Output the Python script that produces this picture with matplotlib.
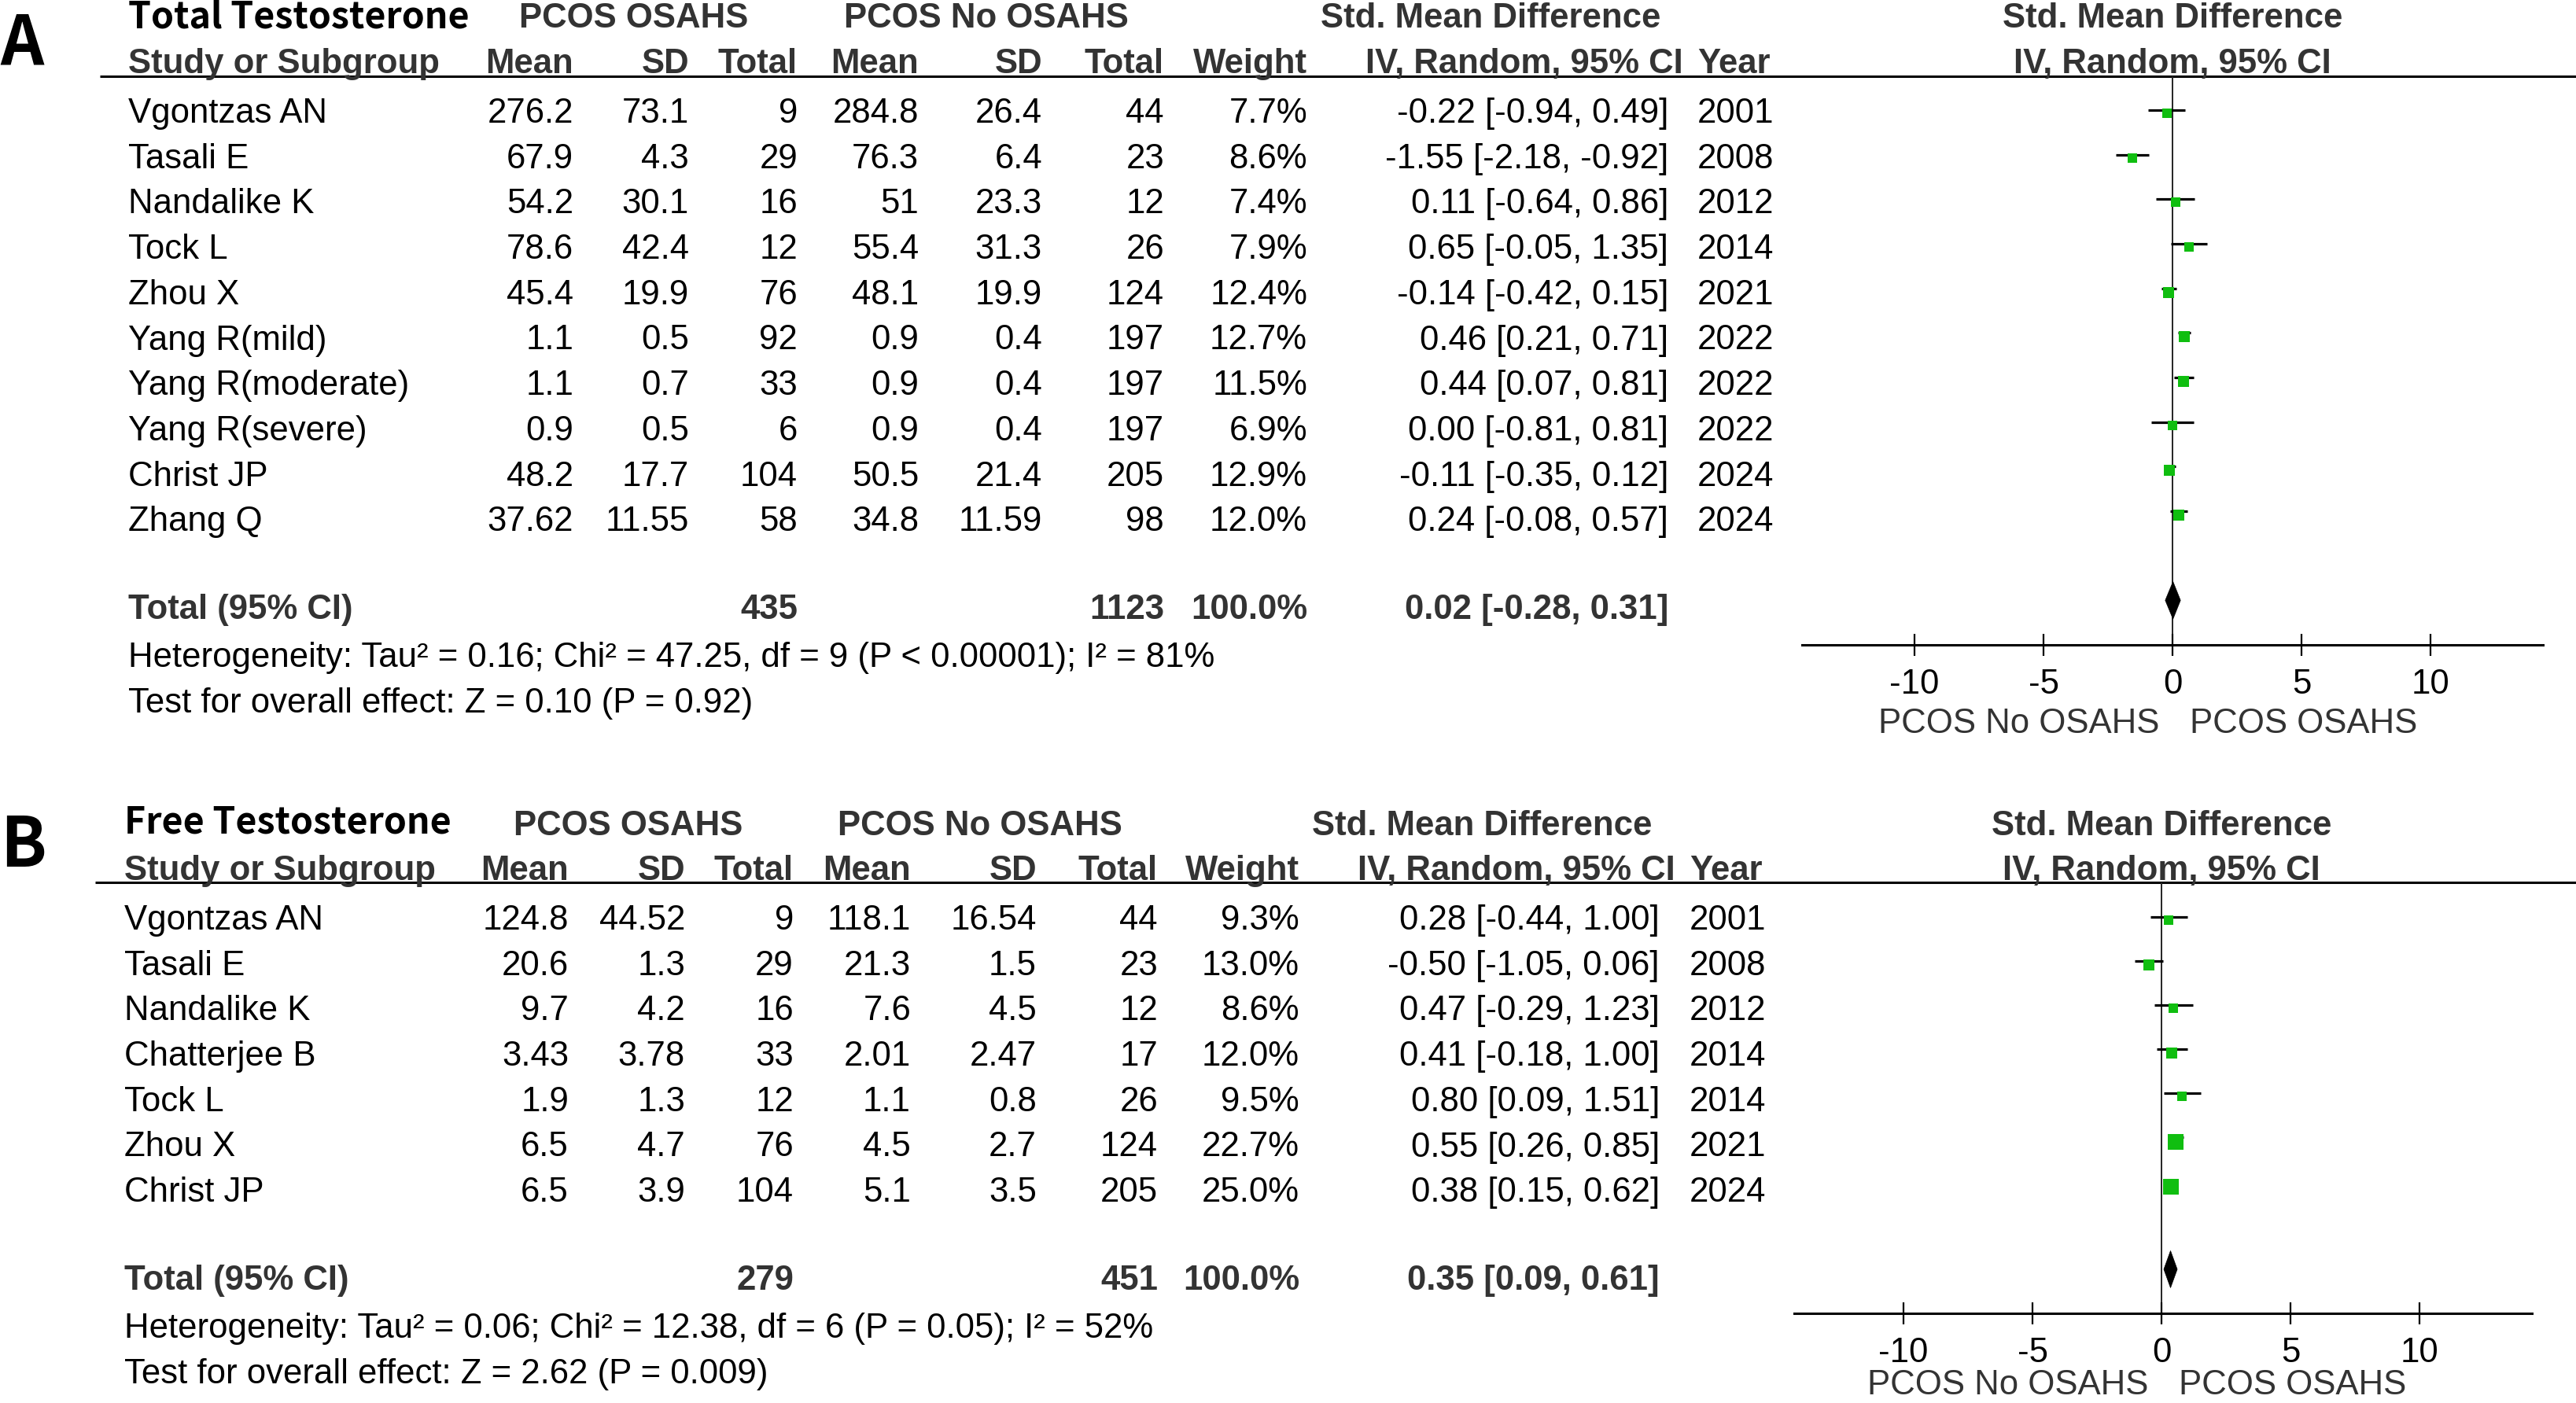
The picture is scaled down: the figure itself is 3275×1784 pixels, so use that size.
import numpy as np
import matplotlib
matplotlib.use("Agg")
import matplotlib.pyplot as plt
from matplotlib.patches import Polygon
from matplotlib.transforms import blended_transform_factory

W, H = 3275, 1784
BODY = 'Liberation Sans'
TITLEFONT = 'Noto Sans CJK SC'
FS = 31.5
GREEN = '#10BE10'
GRAY = '#333333'

plt.rcParams['font.family'] = [BODY, 'DejaVu Sans']
plt.rcParams['axes.unicode_minus'] = False

# ---- panel A: total testosterone ----
a_title = "Total Testosterone"
a_study = ["Vgontzas AN", "Tasali E", "Nandalike K", "Tock L", "Zhou X", "Yang R(mild)",
           "Yang R(moderate)", "Yang R(severe)", "Christ JP", "Zhang Q"]
a_mean1 = ["276.2", "67.9", "54.2", "78.6", "45.4", "1.1", "1.1", "0.9", "48.2", "37.62"]
a_sd1 = ["73.1", "4.3", "30.1", "42.4", "19.9", "0.5", "0.7", "0.5", "17.7", "11.55"]
a_n1 = [9, 29, 16, 12, 76, 92, 33, 6, 104, 58]
a_mean2 = ["284.8", "76.3", "51", "55.4", "48.1", "0.9", "0.9", "0.9", "50.5", "34.8"]
a_sd2 = ["26.4", "6.4", "23.3", "31.3", "19.9", "0.4", "0.4", "0.4", "21.4", "11.59"]
a_n2 = [44, 23, 12, 26, 124, 197, 197, 197, 205, 98]
a_weight = [7.7, 8.6, 7.4, 7.9, 12.4, 12.7, 11.5, 6.9, 12.9, 12.0]
a_smd = [-0.22, -1.55, 0.11, 0.65, -0.14, 0.46, 0.44, 0.00, -0.11, 0.24]
a_lo = [-0.94, -2.18, -0.64, -0.05, -0.42, 0.21, 0.07, -0.81, -0.35, -0.08]
a_hi = [0.49, -0.92, 0.86, 1.35, 0.15, 0.71, 0.81, 0.81, 0.12, 0.57]
a_year = [2001, 2008, 2012, 2014, 2021, 2022, 2022, 2022, 2024, 2024]
a_total = [435, 1123]
a_pooled = [0.02, -0.28, 0.31]
a_het = "Heterogeneity: Tau² = 0.16; Chi² = 47.25, df = 9 (P < 0.00001); I² = 81%"
a_test = "Test for overall effect: Z = 0.10 (P = 0.92)"

# ---- panel B: free testosterone ----
b_title = "Free Testosterone"
b_study = ["Vgontzas AN", "Tasali E", "Nandalike K", "Chatterjee B", "Tock L", "Zhou X", "Christ JP"]
b_mean1 = ["124.8", "20.6", "9.7", "3.43", "1.9", "6.5", "6.5"]
b_sd1 = ["44.52", "1.3", "4.2", "3.78", "1.3", "4.7", "3.9"]
b_n1 = [9, 29, 16, 33, 12, 76, 104]
b_mean2 = ["118.1", "21.3", "7.6", "2.01", "1.1", "4.5", "5.1"]
b_sd2 = ["16.54", "1.5", "4.5", "2.47", "0.8", "2.7", "3.5"]
b_n2 = [44, 23, 12, 17, 26, 124, 205]
b_weight = [9.3, 13.0, 8.6, 12.0, 9.5, 22.7, 25.0]
b_smd = [0.28, -0.50, 0.47, 0.41, 0.80, 0.55, 0.38]
b_lo = [-0.44, -1.05, -0.29, -0.18, 0.09, 0.26, 0.15]
b_hi = [1.00, 0.06, 1.23, 1.00, 1.51, 0.85, 0.62]
b_year = [2001, 2008, 2012, 2014, 2014, 2021, 2024]
b_total = [279, 451]
b_pooled = [0.35, 0.09, 0.61]
b_het = "Heterogeneity: Tau² = 0.06; Chi² = 12.38, df = 6 (P = 0.05); I² = 52%"
b_test = "Test for overall effect: Z = 2.62 (P = 0.009)"

xticks = [-10, -5, 0, 5, 10]

# layout in pixels (y = text baselines)
lay_a = dict(letter="A", letter_y=82, title_x=163, title_y=36, grp_y=35, head_y=93,
             rule_y=97, rule_x=127, row0=156, step=57.7, study_x=163,
             cols=[729, 876, 1014, 1168, 1325, 1480, 1662], ci_r=2121, ci_head_r=2140,
             year_x=2158, grp_x=[806, 1254], smd_x=1895,
             fx=[2291, 3233], fy=[97, 820], xlim=(-14.36, 14.36), lab_dy=-80.6)
lay_b = dict(letter="B", letter_y=1102, title_x=158, title_y=1060, grp_y=1062, head_y=1119,
             rule_y=1122, rule_x=121, row0=1182, step=57.7, study_x=158,
             cols=[723, 871, 1009, 1158, 1318, 1472, 1652], ci_r=2110, ci_head_r=2130,
             year_x=2148, grp_x=[799, 1246], smd_x=1884,
             fx=[2281, 3219], fy=[1122, 1670], xlim=(-14.24, 14.36), lab_dy=-74.0)

fig = plt.figure(figsize=(W / 100, H / 100), dpi=100)
canvas = fig.add_axes([0, 0, 1, 1])
canvas.set_xlim(0, W)
canvas.set_ylim(H, 0)
canvas.axis('off')


def txt(x, y, s, ha='left', bold=False, color='black', size=FS, family=None, transform=None):
    canvas.text(x, y, s, ha=ha, va='baseline', fontsize=size,
                family=family if family else [BODY, 'DejaVu Sans'],
                fontweight='bold' if bold else 'normal', color=color,
                transform=transform if transform else canvas.transData)


def draw_panel(title, study, mean1, sd1, n1, mean2, sd2, n2, weight, smd, lo, hi, year,
               total, pooled, het, test, L):
    cols = L['cols']
    # panel letter and title
    txt(0, L['letter_y'], L['letter'], bold=True, size=62, family=[TITLEFONT, 'DejaVu Sans'])
    txt(L['title_x'], L['title_y'], title, bold=True, size=33.5, family=[TITLEFONT, 'DejaVu Sans'])
    txt(L['grp_x'][0], L['grp_y'], "PCOS OSAHS", ha='center', bold=True, color=GRAY)
    txt(L['grp_x'][1], L['grp_y'], "PCOS No OSAHS", ha='center', bold=True, color=GRAY)
    txt(L['smd_x'], L['grp_y'], "Std. Mean Difference", ha='center', bold=True, color=GRAY)
    txt(L['study_x'], L['head_y'], "Study or Subgroup", bold=True, color=GRAY)
    for x, s in zip(cols, ["Mean", "SD", "Total", "Mean", "SD", "Total", "Weight"]):
        txt(x, L['head_y'], s, ha='right', bold=True, color=GRAY)
    txt(L['ci_head_r'], L['head_y'], "IV, Random, 95% CI", ha='right', bold=True, color=GRAY)
    txt(L['year_x'], L['head_y'], "Year", bold=True, color=GRAY)
    canvas.plot([L['rule_x'], W], [L['rule_y'], L['rule_y']], color='black', lw=2.2,
                solid_capstyle='butt')

    # study rows
    for i in range(len(study)):
        y = L['row0'] + i * L['step']
        txt(L['study_x'], y, study[i])
        vals = [mean1[i], sd1[i], str(n1[i]), mean2[i], sd2[i], str(n2[i]), "%.1f%%" % weight[i]]
        for x, s in zip(cols, vals):
            txt(x, y, s, ha='right')
        txt(L['ci_r'], y, "%.2f [%.2f, %.2f]" % (smd[i], lo[i], hi[i]), ha='right')
        txt(L['year_x'], y, str(year[i]))

    # totals
    tr = len(study) + 1
    y = L['row0'] + tr * L['step']
    txt(L['study_x'], y - 4, "Total (95% CI)", bold=True, color=GRAY)
    txt(cols[2], y - 4, str(total[0]), ha='right', bold=True, color=GRAY)
    txt(cols[5], y - 4, str(total[1]), ha='right', bold=True, color=GRAY)
    txt(cols[6], y - 4, "100.0%", ha='right', bold=True, color=GRAY)
    txt(L['ci_r'], y - 4, "%.2f [%.2f, %.2f]" % tuple(pooled), ha='right', bold=True, color=GRAY)
    txt(L['study_x'], y + L['step'], het)
    txt(L['study_x'], y + 2 * L['step'], test)

    # forest plot axes
    x0, x1 = L['fx']
    y0, y1 = L['fy']
    ax = fig.add_axes([x0 / W, 1 - y1 / H, (x1 - x0) / W, (y1 - y0) / H])
    ax.patch.set_alpha(0)
    ax.set_xlim(*L['xlim'])
    ax.set_ylim(tr + 1, (y0 - (L['row0'] - 15)) / L['step'])
    rows = np.arange(len(study))
    ax.axvline(0, color='#222222', lw=1.4, zorder=1)
    ax.hlines(rows, lo, hi, color='black', lw=2.3, zorder=2)
    for i in rows:
        side = 7.8 + 0.51 * weight[i]
        ax.plot(smd[i], i + 0.35 * side / L['step'], marker='s', ms=side * 0.72,
                color=GREEN, mec=GREEN, mew=0, ls='none', zorder=3)
    est, plo, phi = pooled
    h = 0.42
    ax.add_patch(Polygon([(plo, tr), (est, tr - h), (phi, tr), (est, tr + h)],
                         closed=True, fc='black', ec='black', lw=0.5, zorder=4))
    for s in ['top', 'left', 'right']:
        ax.spines[s].set_visible(False)
    ax.spines['bottom'].set_linewidth(2.2)
    ax.set_yticks([])
    ax.set_xticks(xticks)
    ax.set_xticklabels([str(t) for t in xticks])
    ax.tick_params(axis='x', direction='inout', length=20, width=1.6, labelsize=FS, pad=11.5)
    ax.annotate("PCOS No OSAHS", xy=(0, 0), xycoords=('data', 'axes fraction'),
                xytext=(-12.2, L['lab_dy']), textcoords='offset points', ha='right', va='baseline',
                fontsize=FS, color=GRAY)
    ax.annotate("PCOS OSAHS", xy=(0, 0), xycoords=('data', 'axes fraction'),
                xytext=(15.5, L['lab_dy']), textcoords='offset points', ha='left', va='baseline',
                fontsize=FS, color=GRAY)
    # forest headers centred on the zero line
    bt = blended_transform_factory(ax.transData, canvas.transData)
    txt(0, L['grp_y'], "Std. Mean Difference", ha='center', bold=True, color=GRAY, transform=bt)
    txt(0, L['head_y'], "IV, Random, 95% CI", ha='center', bold=True, color=GRAY, transform=bt)


draw_panel(a_title, a_study, a_mean1, a_sd1, a_n1, a_mean2, a_sd2, a_n2, a_weight, a_smd,
           a_lo, a_hi, a_year, a_total, a_pooled, a_het, a_test, lay_a)
draw_panel(b_title, b_study, b_mean1, b_sd1, b_n1, b_mean2, b_sd2, b_n2, b_weight, b_smd,
           b_lo, b_hi, b_year, b_total, b_pooled, b_het, b_test, lay_b)

fig.savefig("out.png", dpi=100)
